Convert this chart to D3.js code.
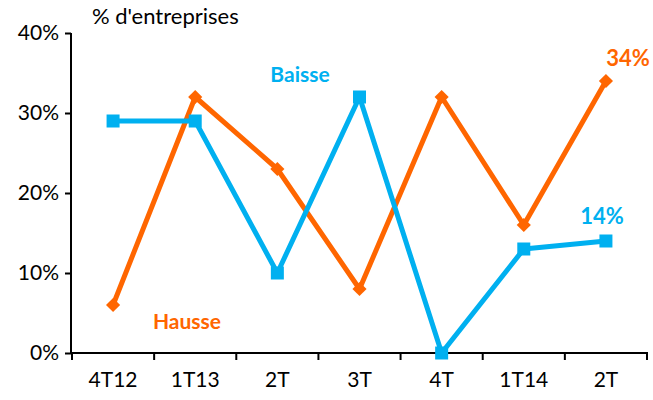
<!DOCTYPE html>
<html>
<head>
<meta charset="utf-8">
<script src="https://cdn.jsdelivr.net/npm/d3@7"></script>
<style>
  body { margin: 0; background: #fff; }
  text { font-family: Lato, "Open Sans", sans-serif; }
</style>
</head>
<body>
<div id="chart"></div>
<script>
const categories = ['4T12', '1T13', '2T', '3T', '4T', '1T14', '2T '];
const hausse = [6, 32, 23, 8, 32, 16, 34];
const baisse = [29, 29, 10, 32, 0, 13, 14];
const yTicks = [0, 10, 20, 30, 40];

const width = 653;
const height = 400;
const orange = '#ff6600';
const blue = '#00b0f0';

const svg = d3.select('#chart')
  .append('svg')
  .attr('width', width)
  .attr('height', height);

const x = d3.scaleBand()
  .domain(categories)
  .range([72, 647]);

const y = d3.scaleLinear()
  .domain([0, 40])
  .range([353, 33]);

const xc = d => x(d) + x.bandwidth() / 2;

// y axis
const yAxis = svg.append('g')
  .attr('transform', 'translate(71,0)')
  .call(d3.axisLeft(y).tickValues(yTicks).tickSize(6).tickPadding(6).tickFormat(d => d + '%'));
yAxis.select('.domain').attr('stroke', '#000').attr('stroke-width', 2).attr('d', 'M0,33V353');
yAxis.selectAll('.tick line').attr('stroke-width', 2);
yAxis.selectAll('.tick text').attr('font-size', 21).attr('fill', '#000');

// x axis with ticks at band edges
const xAxis = svg.append('g').attr('transform', 'translate(0,353)');
xAxis.append('line')
  .attr('x1', 71).attr('x2', 648)
  .attr('stroke', '#000').attr('stroke-width', 2);
xAxis.selectAll('.edge')
  .data(categories.concat(['end']))
  .enter().append('line')
  .attr('x1', (d, i) => i < categories.length ? x(d) : x(categories[categories.length - 1]) + x.bandwidth())
  .attr('x2', (d, i) => i < categories.length ? x(d) : x(categories[categories.length - 1]) + x.bandwidth())
  .attr('y1', 0).attr('y2', 7)
  .attr('stroke', '#000').attr('stroke-width', 2);
xAxis.selectAll('.lbl')
  .data(categories)
  .enter().append('text')
  .attr('x', d => xc(d))
  .attr('y', 34)
  .attr('text-anchor', 'middle')
  .attr('font-size', 21)
  .text(d => d.trim());

const line = d3.line()
  .x((d, i) => xc(categories[i]))
  .y(d => y(d));

// Hausse
svg.append('path')
  .datum(hausse)
  .attr('d', line)
  .attr('fill', 'none')
  .attr('stroke', orange)
  .attr('stroke-width', 5)
  .attr('stroke-linejoin', 'round');
svg.selectAll('.diamond')
  .data(hausse)
  .enter().append('path')
  .attr('d', d3.symbol().type(d3.symbolSquare).size(100))
  .attr('transform', (d, i) => `translate(${xc(categories[i])},${y(d)}) rotate(45)`)
  .attr('fill', orange);

// Baisse
svg.append('path')
  .datum(baisse)
  .attr('d', line)
  .attr('fill', 'none')
  .attr('stroke', blue)
  .attr('stroke-width', 5)
  .attr('stroke-linejoin', 'round');
svg.selectAll('.square')
  .data(baisse)
  .enter().append('rect')
  .attr('x', (d, i) => xc(categories[i]) - 6.5)
  .attr('y', d => y(d) - 6.5)
  .attr('width', 13)
  .attr('height', 13)
  .attr('fill', blue);

// texts
svg.append('text')
  .attr('x', 92).attr('y', 24)
  .attr('font-size', 22)
  .text("% d'entreprises");
svg.append('text')
  .attr('x', 300).attr('y', 82)
  .attr('text-anchor', 'middle')
  .attr('font-size', 21).attr('font-weight', 'bold')
  .attr('fill', blue)
  .text('Baisse');
svg.append('text')
  .attr('x', 187).attr('y', 329)
  .attr('text-anchor', 'middle')
  .attr('font-size', 21).attr('font-weight', 'bold')
  .attr('fill', orange)
  .text('Hausse');
svg.append('text')
  .attr('x', xc(categories[6]) + 22).attr('y', 66)
  .attr('text-anchor', 'middle')
  .attr('font-size', 22).attr('font-weight', 'bold')
  .attr('fill', orange)
  .text(hausse[6] + '%');
svg.append('text')
  .attr('x', xc(categories[6]) - 4).attr('y', 224)
  .attr('text-anchor', 'middle')
  .attr('font-size', 22).attr('font-weight', 'bold')
  .attr('fill', blue)
  .text(baisse[6] + '%');
</script>
</body>
</html>
